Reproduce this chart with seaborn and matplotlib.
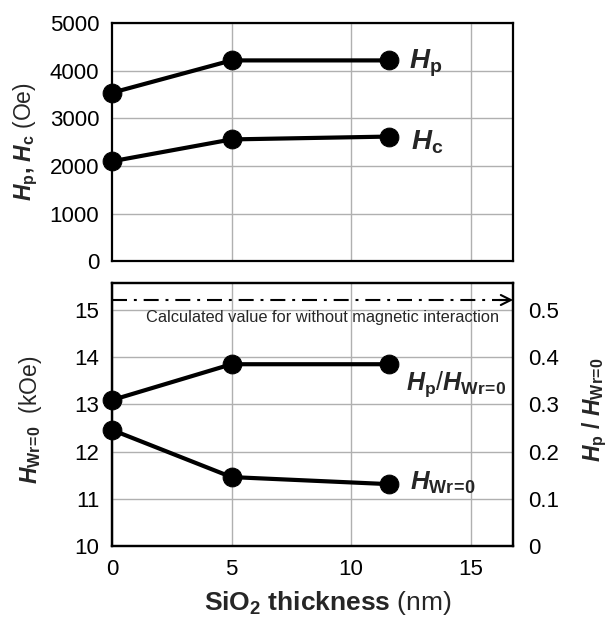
import matplotlib
matplotlib.use("Agg")
import matplotlib.pyplot as plt
import seaborn as sns
import pandas as pd

# Data
thickness = [0, 5, 11.6]
hp_oe = [3540, 4220, 4220]
hc_oe = [2100, 2560, 2620]
ratio_hp_hwr = [0.309, 0.385, 0.385]
hwr0_koe = [12.46, 11.46, 11.31]
calc_ratio = 0.521

sns.set_theme(style="white")
plt.rcParams['font.family'] = ['Liberation Sans', 'DejaVu Sans']
plt.rcParams['mathtext.fontset'] = 'custom'
plt.rcParams['mathtext.rm'] = 'Liberation Sans'
plt.rcParams['mathtext.it'] = 'Liberation Sans:italic'
plt.rcParams['mathtext.bf'] = 'Liberation Sans:bold'
plt.rcParams['mathtext.bfit'] = 'Liberation Sans:italic:bold'

fig = plt.figure(figsize=(6.08, 6.19), dpi=100)
ax1 = fig.add_axes([0.184, 0.5779, 0.660, 0.3845])
ax2 = fig.add_axes([0.184, 0.1179, 0.660, 0.4249])
ax3 = ax2.twinx()

line_kw = dict(color='black', linewidth=3, marker='o', markersize=13.5, markeredgecolor='black')

df1 = pd.DataFrame({'x': thickness, 'hp': hp_oe, 'hc': hc_oe})
sns.lineplot(data=df1, x='x', y='hp', ax=ax1, **line_kw)
sns.lineplot(data=df1, x='x', y='hc', ax=ax1, **line_kw)

df2 = pd.DataFrame({'x': thickness, 'hwr': hwr0_koe, 'ratio': ratio_hp_hwr})
sns.lineplot(data=df2, x='x', y='hwr', ax=ax2, **line_kw)
sns.lineplot(data=df2, x='x', y='ratio', ax=ax3, **line_kw)

XMAX = 16.77
for ax in (ax1, ax2, ax3):
    ax.set_xlim(0, XMAX)
    for s in ax.spines.values():
        s.set_color('black')
        s.set_linewidth(1.6)
    ax.set_xlabel('')
    ax.set_ylabel('')
    ax.tick_params(length=0, labelsize=16, colors='black')
    for l in ax.lines:
        l.set_clip_on(False)

ax1.set_ylim(0, 5000)
ax1.set_yticks([0, 1000, 2000, 3000, 4000, 5000])
ax1.set_xticks([5, 10, 15])
ax1.set_xticklabels([])
ax1.grid(True, color='#b0b0b0', linewidth=1)
ax1.tick_params(axis='y', pad=9)

ax2.set_ylim(10, 15.57)
ax2.set_yticks([10, 11, 12, 13, 14, 15])
ax2.set_xticks([0, 5, 10, 15])
ax2.grid(True, color='#b0b0b0', linewidth=1)
ax2.tick_params(axis='y', pad=9)
ax2.tick_params(axis='x', pad=9)
ax3.set_ylim(0, 0.557)
ax3.set_yticks([0, 0.1, 0.2, 0.3, 0.4, 0.5])
ax3.set_yticklabels(['0', '0.1', '0.2', '0.3', '0.4', '0.5'])
ax3.tick_params(axis='y', pad=11)

# dash-dot reference line with arrow head at the right end
ax3.axhline(calc_ratio, color='black', linewidth=1.5, dashes=(7.2, 3.3, 1.4, 3.3), zorder=4)
ax3.annotate('', xy=(XMAX, calc_ratio), xytext=(XMAX - 0.6, calc_ratio),
             arrowprops=dict(arrowstyle='->', color='black', lw=1.5,
                             shrinkA=0, shrinkB=0, mutation_scale=18))
ax3.text(8.8, 0.483, 'Calculated value for without magnetic interaction',
         ha='center', va='center', fontsize=11.8)

# series labels
ax1.text(12.4, 4060, r'$\mathbfit{H}_\mathbf{p}$', fontsize=20, va='baseline', ha='left')
ax1.text(12.5, 2340, r'$\mathbfit{H}_\mathbf{c}$', fontsize=20, va='baseline', ha='left')
ax3.text(12.3, 0.33, r'$\mathbfit{H}_\mathbf{p}\mathit{/}\mathbfit{H}_\mathbf{Wr\!=\!0}$',
         fontsize=18, va='baseline', ha='left')
ax3.text(12.45, 0.12, r'$\mathbfit{H}_\mathbf{Wr\!=\!0}$', fontsize=18.5, va='baseline', ha='left')

# axis labels
fig.text(0.042, 0.772, r'$\mathbfit{H}_\mathbf{p}\mathbf{,}\ \mathbfit{H}_\mathbf{c}$ (Oe)', rotation=90,
         fontsize=16.5, ha='center', va='center')
fig.text(0.050, 0.321, r'$\mathbfit{H}_\mathbf{Wr\!=\!0}$  (kOe)', rotation=90,
         fontsize=16.5, ha='center', va='center')
fig.text(0.978, 0.338, r'$\mathbfit{H}_\mathbf{p}\ \mathbf{/}\ \mathbfit{H}_\mathbf{Wr\!=\!0}$', rotation=90,
         fontsize=16.5, ha='center', va='center')
fig.text(0.54, 0.026, r'$\mathbf{SiO_2\ thickness}$ (nm)', fontsize=19, ha='center', va='center')

fig.savefig('out.png', dpi=100)
